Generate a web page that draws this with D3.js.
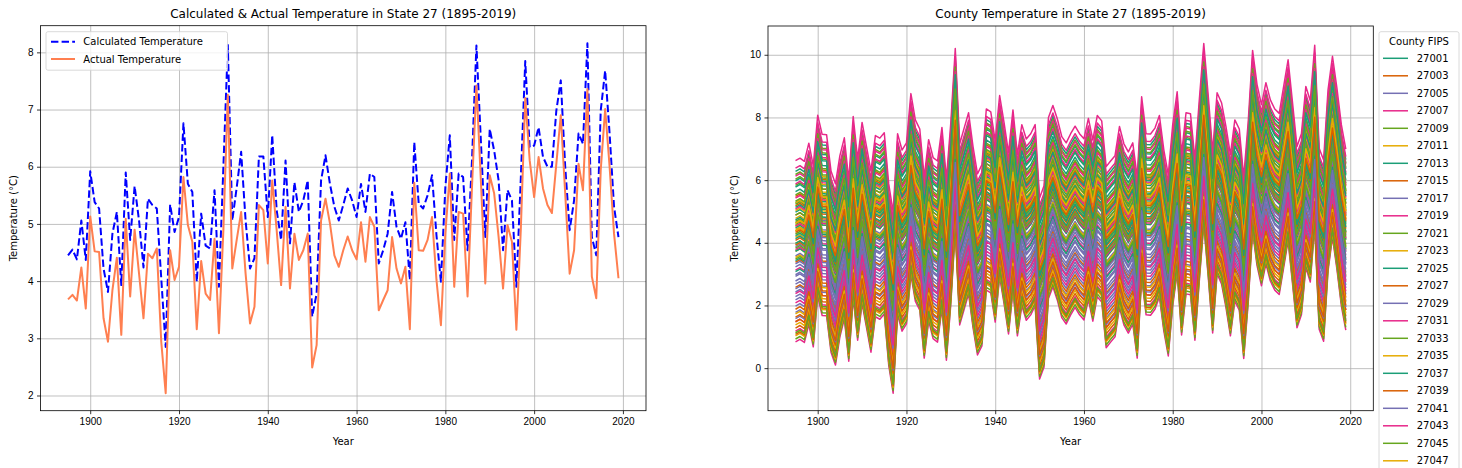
<!DOCTYPE html>
<html>
<head>
<meta charset="utf-8">
<script src="https://cdn.jsdelivr.net/npm/d3@7"></script>
<style>
    body { margin: 0; background: #fff; }
    svg { font-family: "DejaVu Sans", sans-serif; }
    .grid line { stroke: #b0b0b0; stroke-width: 0.8; }
    .grid path { display: none; }
    .axis path, .axis line { stroke: #000; stroke-width: 0.8; }
    .axis text { font-size: 10px; fill: #000; }
</style>
</head>
<body>
<div id="chart"></div>
<script>
// years shown on both panels
const years = d3.range(1895, 2020)

// state-wide actual temperature (°C), 1895..2019
const actualTemp = [
    3.68, 3.76, 3.66, 4.24, 3.52,
    5.13, 4.52, 4.51, 3.35, 2.94, 3.84, 4.41, 3.06, 5.09, 3.73,
    4.90, 4.13, 3.35, 4.48, 4.40, 4.57, 2.94, 2.04, 4.54, 4.02,
    4.25, 5.82, 4.98, 4.69, 3.16, 4.35, 3.78, 3.67, 4.74, 3.09,
    4.90, 7.26, 4.22, 4.72, 5.21, 4.13, 3.26, 3.55, 5.33, 5.24,
    4.31, 5.76, 4.89, 3.93, 5.30, 3.87, 4.83, 4.37, 4.54, 4.83,
    2.49, 2.88, 5.06, 5.44, 5.01, 4.45, 4.25, 4.54, 4.78, 4.54,
    4.38, 5.03, 4.34, 5.12, 4.95, 3.49, 3.67, 3.84, 4.77, 4.22,
    3.96, 4.25, 3.16, 5.72, 4.54, 4.53, 4.72, 5.12, 4.02, 3.23,
    4.83, 5.88, 3.90, 5.21, 5.18, 3.73, 5.64, 7.42, 5.76, 3.96,
    5.85, 5.53, 4.77, 3.87, 4.98, 4.69, 3.15, 4.90, 7.20, 6.11,
    5.47, 6.17, 5.62, 5.33, 5.19, 6.05, 6.90, 5.53, 4.13, 4.54,
    6.05, 5.59, 7.36, 4.08, 3.70, 5.94, 7.01, 6.00, 4.83, 4.05
]

// calculated temperature (°C), 1895..2019
const calcTemp = [
    4.45, 4.55, 4.38, 5.06, 4.37,
    5.92, 5.38, 5.27, 4.22, 3.81, 4.83, 5.21, 3.93, 5.90, 4.72,
    5.66, 5.06, 4.24, 5.44, 5.33, 5.27, 4.05, 2.85, 5.34, 4.86,
    5.12, 6.76, 5.70, 5.56, 3.99, 5.18, 4.62, 4.57, 5.59, 3.90,
    6.00, 8.13, 5.06, 5.64, 6.26, 5.06, 4.22, 4.40, 6.18, 6.18,
    5.12, 6.55, 5.24, 4.72, 6.11, 4.66, 5.73, 5.21, 5.41, 5.76,
    3.38, 3.78, 5.76, 6.20, 5.70, 5.30, 5.06, 5.33, 5.62, 5.41,
    5.12, 5.70, 5.21, 5.88, 5.82, 4.31, 4.54, 4.83, 5.56, 4.95,
    4.74, 5.03, 4.02, 6.43, 5.35, 5.27, 5.50, 5.85, 4.80, 3.99,
    5.64, 6.55, 4.72, 5.88, 5.82, 4.54, 6.11, 8.12, 6.46, 4.77,
    6.66, 6.28, 5.76, 4.54, 5.59, 5.41, 3.90, 5.80, 7.85, 6.34,
    6.37, 6.69, 6.17, 6.00, 6.00, 6.98, 7.51, 6.00, 4.89, 5.41,
    6.58, 6.40, 8.16, 4.77, 4.45, 6.98, 7.68, 6.58, 5.30, 4.77
]

// county FIPS codes (27001..27173)
const countyFips = d3.range(27001, 27174, 2).map(String)

// how far each county sits above / below the state line (°C)
const countyOffset = [
    2.60, 1.80, 0.20, 2.94, 2.50, 1.10, 2.30, 1.20, -0.10, -2.84,
    2.15, 0.75, 1.95, 0.70, -0.45, 2.70, -2.75, -2.65, 1.60, -2.60,
    -0.75, -2.50, 1.85, 0.50, 1.30, 0.25, -1.00, 2.45, 1.55, 0.30,
    1.05, -0.30, -1.25, -2.20, 1.20, 1.35, 0.80, -2.40, -1.50, 1.75,
    0.90, -2.30, 0.55, -1.10, -1.70, -1.60, -2.55, 0.05, 0.30, 1.50,
    -1.90, 1.40, 0.60, -0.15, 0.05, -2.20, -2.10, 0.10, 2.35, 1.60,
    -0.25, 0.95, -0.35, 2.20, 0.15, 0.85, 2.10, -1.80, -0.90, -0.55,
    -0.20, -1.95, 1.45, -2.05, -1.40, 0.85, 1.00, 0.95, -0.60, 0.40,
    -1.15, -1.30, 1.65, 0.70, 0.45, 0.65, -0.70
]

const xTicks = [1900, 1920, 1940, 1960, 1980, 2000, 2020]
const leftYTicks = [2, 3, 4, 5, 6, 7, 8]
const rightYTicks = [0, 2, 4, 6, 8, 10]
const countyColours = ['#1b9e77', '#d95f02', '#7570b3', '#e7298a', '#66a61e', '#e6ab02']

const viewBoxWidth = 1462
const viewBoxHeight = 468

const svg = d3.select('#chart')
    .append('svg')
    .attr('width', viewBoxWidth)
    .attr('height', viewBoxHeight)
    .attr('viewBox', [0, 0, viewBoxWidth, viewBoxHeight])

svg.append('rect')
    .attr('width', viewBoxWidth)
    .attr('height', viewBoxHeight)
    .attr('fill', '#fff')

// matplotlib-like padded domain
function padded(lo, hi) {
    const pad = (hi - lo) * 0.05
    return [lo - pad, hi + pad]
}

function drawFrame(box, x, y, yTicks, title, yLabelGap) {
    const g = svg.append('g')

    g.append('g')
        .attr('class', 'grid')
        .attr('transform', `translate(0, ${box.bottom})`)
        .call(d3.axisBottom(x).tickValues(xTicks).tickSize(-(box.bottom - box.top)).tickFormat(''))
    g.append('g')
        .attr('class', 'grid')
        .attr('transform', `translate(${box.left}, 0)`)
        .call(d3.axisLeft(y).tickValues(yTicks).tickSize(-(box.right - box.left)).tickFormat(''))

    g.append('text')
        .attr('x', (box.left + box.right) / 2)
        .attr('y', 18)
        .attr('text-anchor', 'middle')
        .attr('font-size', 12)
        .text(title)
    g.append('text')
        .attr('x', (box.left + box.right) / 2)
        .attr('y', 441)
        .attr('text-anchor', 'middle')
        .attr('dominant-baseline', 'central')
        .attr('font-size', 10)
        .text('Year')
    g.append('text')
        .attr('transform', `translate(${box.left - yLabelGap}, ${(box.top + box.bottom) / 2}) rotate(-90)`)
        .attr('text-anchor', 'middle')
        .attr('dominant-baseline', 'central')
        .attr('font-size', 10)
        .text('Temperature (°C)')
    return g
}

function drawAxes(box, x, y, yTicks) {
    const g = svg.append('g')
    g.append('g')
        .attr('class', 'axis')
        .attr('transform', `translate(0, ${box.bottom})`)
        .call(d3.axisBottom(x).tickValues(xTicks).tickFormat(d3.format('d')).tickSize(3.5).tickPadding(3.5))
        .call(a => a.select('.domain').remove())
    g.append('g')
        .attr('class', 'axis')
        .attr('transform', `translate(${box.left}, 0)`)
        .call(d3.axisLeft(y).tickValues(yTicks).tickFormat(d3.format('d')).tickSize(3.5).tickPadding(3.5))
        .call(a => a.select('.domain').remove())
    g.append('rect')
        .attr('x', box.left)
        .attr('y', box.top)
        .attr('width', box.right - box.left)
        .attr('height', box.bottom - box.top)
        .attr('fill', 'none')
        .attr('stroke', '#000')
        .attr('stroke-width', 0.8)
}

// ---- left panel
const leftBox = { left: 40.5, right: 646, top: 25.7, bottom: 410.7 }
const xLeft = d3.scaleLinear()
    .domain(padded(1895, 2019))
    .range([leftBox.left, leftBox.right])
const leftExtent = d3.extent(actualTemp.concat(calcTemp))
const yLeft = d3.scaleLinear()
    .domain(padded(leftExtent[0], leftExtent[1]))
    .range([leftBox.bottom, leftBox.top])

drawFrame(leftBox, xLeft, yLeft, leftYTicks, 'Calculated & Actual Temperature in State 27 (1895-2019)', 27)

const lineLeft = d3.line()
    .x((d, i) => xLeft(years[i]))
    .y(d => yLeft(d))

const leftSeries = [
    { label: 'Calculated Temperature', values: calcTemp, colour: '#0000ff', dash: '7.4,3.2' },
    { label: 'Actual Temperature', values: actualTemp, colour: '#ff7f50', dash: null }
]

svg.append('g')
    .selectAll('path')
    .data(leftSeries)
    .enter()
    .append('path')
    .attr('d', d => lineLeft(d.values))
    .attr('fill', 'none')
    .attr('stroke', d => d.colour)
    .attr('stroke-width', 2)
    .attr('stroke-dasharray', d => d.dash)
    .attr('stroke-linejoin', 'round')

drawAxes(leftBox, xLeft, yLeft, leftYTicks)

// left legend
const leftLegend = svg.append('g')
leftLegend.append('rect')
    .attr('x', 46)
    .attr('y', 31.7)
    .attr('width', 181.5)
    .attr('height', 38.5)
    .attr('rx', 2)
    .attr('fill', '#fff')
    .attr('fill-opacity', 0.8)
    .attr('stroke', '#d0d0d0')
    .attr('stroke-width', 0.8)
const leftEntry = leftLegend.selectAll('g.entry')
    .data(leftSeries)
    .enter()
    .append('g')
    .attr('class', 'entry')
    .attr('transform', (d, i) => `translate(0, ${41.7 + i * 17.3})`)
leftEntry.append('line')
    .attr('x1', 51)
    .attr('x2', 75)
    .attr('stroke', d => d.colour)
    .attr('stroke-width', 2)
    .attr('stroke-dasharray', d => d.dash)
leftEntry.append('text')
    .attr('x', 83.3)
    .attr('dominant-baseline', 'central')
    .attr('font-size', 10)
    .text(d => d.label)

// ---- right panel
const rightBox = { left: 768, right: 1373.3, top: 26, bottom: 410.7 }
const countySeries = countyFips.map((fips, c) => ({
    fips: fips,
    colour: countyColours[c % countyColours.length],
    values: actualTemp.map(v => v + countyOffset[c])
}))
const countyExtent = d3.extent(countySeries.flatMap(s => s.values))

const xRight = d3.scaleLinear()
    .domain(padded(1895, 2019))
    .range([rightBox.left, rightBox.right])
const yRight = d3.scaleLinear()
    .domain(padded(countyExtent[0], countyExtent[1]))
    .range([rightBox.bottom, rightBox.top])

drawFrame(rightBox, xRight, yRight, rightYTicks, 'County Temperature in State 27 (1895-2019)', 34)

const lineRight = d3.line()
    .x((d, i) => xRight(years[i]))
    .y(d => yRight(d))

svg.append('g')
    .selectAll('path')
    .data(countySeries)
    .enter()
    .append('path')
    .attr('d', d => lineRight(d.values))
    .attr('fill', 'none')
    .attr('stroke', d => d.colour)
    .attr('stroke-width', 1.5)
    .attr('stroke-linejoin', 'round')

drawAxes(rightBox, xRight, yRight, rightYTicks)

// right legend: one entry per county, taller than the figure so it runs off the bottom
const legendTop = 58.3
const legendStep = 17.5

const rightLegend = svg.append('g')
rightLegend.append('rect')
    .attr('x', 1379)
    .attr('y', 31.7)
    .attr('width', 80)
    .attr('height', 20 + countySeries.length * legendStep)
    .attr('rx', 2)
    .attr('fill', '#fff')
    .attr('fill-opacity', 0.8)
    .attr('stroke', '#d0d0d0')
    .attr('stroke-width', 0.8)
rightLegend.append('text')
    .attr('x', 1419)
    .attr('y', 41.7)
    .attr('text-anchor', 'middle')
    .attr('dominant-baseline', 'central')
    .attr('font-size', 10)
    .text('County FIPS')
const rightEntry = rightLegend.selectAll('g.entry')
    .data(countySeries)
    .enter()
    .append('g')
    .attr('class', 'entry')
    .attr('transform', (d, i) => `translate(0, ${legendTop + i * legendStep})`)
rightEntry.append('line')
    .attr('x1', 1383)
    .attr('x2', 1408)
    .attr('stroke', d => d.colour)
    .attr('stroke-width', 1.5)
rightEntry.append('text')
    .attr('x', 1416.7)
    .attr('dominant-baseline', 'central')
    .attr('font-size', 10)
    .text(d => d.fips)
</script>
</body>
</html>
